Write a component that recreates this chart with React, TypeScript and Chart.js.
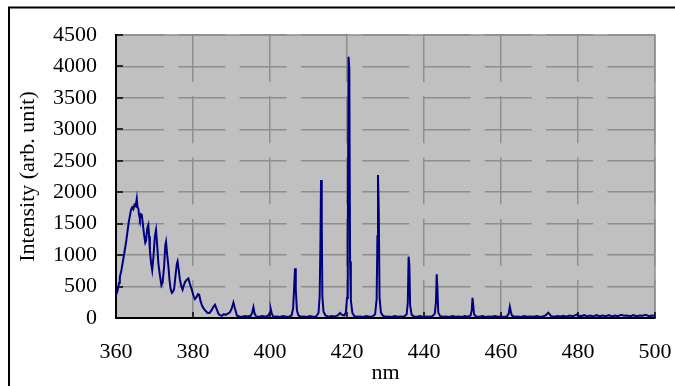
import React, { useEffect, useRef } from 'react';
import { Chart, registerables } from 'chart.js';

Chart.register(...registerables);

// Wavelength (nm) and intensity (arb. unit)
const wavelengths = [
  360.0, 360.4, 360.8, 361.0, 361.4, 361.8, 362.2, 362.6, 363.0, 363.3, 363.6, 363.9, 364.2, 364.5, 364.8, 365.1,
  365.4, 365.6, 365.8, 366.0, 366.2, 366.5, 366.7, 367.0, 367.3, 367.6, 367.8, 368.1, 368.4, 368.6, 368.8, 369.1,
  369.4, 369.7, 370.1, 370.4, 370.7, 371.0, 371.4, 371.8, 372.1, 372.5, 372.8, 373.0, 373.3, 373.6, 373.9, 374.2,
  374.5, 374.8, 375.1, 375.5, 375.8, 376.0, 376.3, 376.6, 376.9, 377.3, 377.6, 378.0, 378.4, 378.8, 379.2, 379.7,
  380.1, 380.5, 380.9, 381.3, 381.6, 382.0, 382.4, 382.8, 383.3, 383.8, 384.3, 384.8, 385.3, 385.7, 386.1, 386.6,
  387.0, 387.5, 388.0, 388.5, 389.0, 389.5, 390.0, 390.5, 390.9, 391.4, 392.0, 392.8, 393.5, 394.2, 395.0, 395.4,
  395.7, 396.0, 396.4, 397.2, 398.0, 398.8, 399.6, 400.0, 400.2, 400.5, 400.9, 401.8, 402.6, 403.4, 404.2, 405.0,
  405.6, 406.0, 406.3, 406.5, 406.7, 407.0, 407.4, 408.0, 408.8, 409.6, 410.4, 411.2, 412.0, 412.6, 412.9, 413.1,
  413.25, 413.45, 413.6, 413.9, 414.4, 415.2, 416.0, 416.8, 417.6, 418.2, 418.7, 419.3, 419.7, 420.0, 420.2, 420.4,
  420.6, 420.8, 421.0, 421.4, 421.9, 422.6, 423.4, 424.2, 425.0, 425.8, 426.6, 427.3, 427.7, 427.9, 428.05, 428.25,
  428.45, 428.8, 429.3, 430.0, 430.8, 431.6, 432.4, 433.2, 434.0, 434.8, 435.5, 435.8, 436.0, 436.2, 436.4, 436.8,
  437.4, 438.2, 439.0, 439.8, 440.6, 441.4, 442.2, 442.8, 443.1, 443.3, 443.5, 443.7, 444.2, 445.0, 445.8, 446.6,
  447.4, 448.2, 449.0, 449.8, 450.6, 451.4, 452.1, 452.4, 452.6, 452.8, 453.0, 453.5, 454.4, 455.2, 456.0, 456.8,
  457.6, 458.4, 459.2, 460.0, 460.8, 461.6, 462.0, 462.3, 462.5, 462.8, 463.5, 464.4, 465.2, 466.0, 466.8, 467.6,
  468.4, 469.2, 470.0, 470.8, 471.6, 472.0, 472.3, 472.6, 473.0, 473.8, 474.6, 475.4, 476.2, 477.0, 477.8, 478.6,
  479.4, 479.7, 480.0, 480.8, 481.6, 482.4, 483.2, 484.0, 484.8, 485.6, 486.4, 487.2, 488.0, 488.8, 489.6, 490.4,
  491.2, 492.0, 492.8, 493.6, 494.4, 495.2, 496.0, 496.8, 497.6, 498.4, 499.2, 500.0,
];

const intensities = [
  366, 430, 560, 650, 760, 900, 1050, 1200, 1380, 1520, 1620, 1720, 1760, 1730, 1800, 1780,
  1900, 1760, 1740, 1640, 1580, 1650, 1640, 1480, 1320, 1200, 1230, 1420, 1480, 1300, 1080, 880,
  760, 950, 1300, 1400, 1150, 870, 680, 520, 560, 820, 1150, 1210, 1000, 830, 600, 460,
  400, 420, 460, 700, 860, 900, 760, 610, 520, 450, 520, 580, 610, 630, 540, 450,
  360, 300, 330, 380, 370, 260, 190, 150, 110, 80, 80, 120, 180, 210, 150, 70,
  45, 35, 60, 50, 70, 85, 140, 245, 150, 40, 25, 20, 30, 25, 35, 90,
  170, 70, 25, 20, 30, 20, 40, 90, 140, 60, 20, 25, 15, 30, 20, 25,
  40, 150, 520, 790, 450, 120, 40, 20, 25, 15, 30, 20, 25, 80, 340, 1200,
  2194, 1500, 340, 100, 40, 20, 30, 25, 40, 80, 50, 40, 90, 320, 1130, 4155,
  3960, 900, 280, 80, 30, 20, 25, 15, 30, 20, 25, 60, 300, 1300, 2273, 1700,
  330, 90, 35, 20, 25, 15, 30, 20, 25, 20, 60, 250, 975, 850, 200, 50,
  25, 20, 30, 15, 25, 20, 30, 70, 250, 694, 450, 90, 30, 20, 25, 15,
  30, 20, 25, 15, 30, 20, 40, 120, 320, 200, 60, 25, 20, 30, 15, 25,
  20, 30, 20, 25, 15, 30, 70, 180, 120, 40, 20, 25, 15, 30, 20, 25,
  20, 30, 20, 25, 40, 70, 85, 60, 30, 20, 30, 25, 35, 20, 40, 30,
  45, 55, 40, 30, 45, 30, 40, 25, 45, 30, 40, 30, 45, 25, 40, 30,
  50, 35, 40, 30, 45, 30, 40, 35, 50, 30, 40, 35,
];

const X_MIN = 360;
const X_MAX = 500;
const X_STEP = 20;
const Y_MIN = 0;
const Y_MAX = 4500;
const Y_STEP = 500;
const xTitle = 'nm';
const yTitle = 'Intensity (arb. unit)';

const FONT = 'Liberation Serif, "Times New Roman", serif';
const FONT_SIZE = 22;
const GRID_COLOR = '#8e8e8e';
const GRID_DASH = [47, 14.3];

export default function App() {
  const ref = useRef<HTMLCanvasElement | null>(null);

  useEffect(() => {
    const canvas = ref.current;
    if (!canvas) return;

    const framePlugin = {
      id: 'frame',
      beforeDraw(chart: any) {
        const { ctx, chartArea: a } = chart;
        ctx.save();
        ctx.fillStyle = '#ffffff';
        ctx.fillRect(0, 0, chart.width, chart.height);
        ctx.fillStyle = '#c0c0c0';
        ctx.fillRect(a.left, a.top, a.right - a.left, a.bottom - a.top);
        ctx.strokeStyle = GRID_COLOR;
        ctx.lineWidth = 1.5;
        ctx.strokeRect(a.left, a.top, a.right - a.left, a.bottom - a.top);
        ctx.strokeStyle = '#000000';
        ctx.lineWidth = 2;
        ctx.strokeRect(9, 7.5, 800, 600);
        ctx.restore();
      },
      beforeDatasetsDraw(chart: any) {
        const { ctx, chartArea: a, scales } = chart;
        ctx.save();
        ctx.strokeStyle = '#000000';
        ctx.lineWidth = 1.5;
        ctx.beginPath();
        scales.y.ticks.forEach((t: any) => {
          const py = Math.round(scales.y.getPixelForValue(t.value));
          ctx.moveTo(a.left, py);
          ctx.lineTo(a.left + 7, py);
        });
        scales.x.ticks.forEach((t: any) => {
          const px = Math.round(scales.x.getPixelForValue(t.value));
          ctx.moveTo(px, a.bottom);
          ctx.lineTo(px, a.bottom - 6);
        });
        ctx.stroke();
        ctx.restore();
      },
    };

    const chart = new Chart(canvas, {
      type: 'line',
      data: {
        datasets: [
          {
            data: wavelengths.map((x, i) => ({ x, y: intensities[i] })),
            borderColor: '#000080',
            borderWidth: 2,
            pointRadius: 0,
            tension: 0,
            fill: false,
          },
        ],
      },
      options: {
        animation: false,
        responsive: false,
        maintainAspectRatio: false,
        devicePixelRatio: 1,
        layout: { padding: { left: 0, right: 20, top: 35, bottom: 0 } },
        plugins: {
          legend: { display: false },
          tooltip: { enabled: false },
        },
        scales: {
          x: {
            type: 'linear',
            min: X_MIN,
            max: X_MAX,
            afterFit: (s: any) => {
              s.height = 68;
              s.paddingLeft = 0;
              s.paddingRight = 0;
            },
            ticks: {
              stepSize: X_STEP,
              color: '#000',
              padding: 21,
              font: { family: FONT, size: FONT_SIZE, lineHeight: 1.2 },
              callback: (v: any) => String(v),
              maxRotation: 0,
            },
            grid: { color: GRID_COLOR, lineWidth: 1.5, drawTicks: false },
            border: { display: true, color: '#000', width: 2, dash: GRID_DASH },
            title: {
              display: true,
              text: xTitle,
              color: '#000',
              font: { family: FONT, size: FONT_SIZE, lineHeight: 1.2 },
              padding: { top: 0, bottom: 0 },
            },
          },
          y: {
            type: 'linear',
            min: Y_MIN,
            max: Y_MAX,
            afterFit: (s: any) => {
              s.width = 116;
              s.paddingTop = 0;
              s.paddingBottom = 0;
            },
            ticks: {
              stepSize: Y_STEP,
              color: '#000',
              padding: 19,
              font: { family: FONT, size: FONT_SIZE, lineHeight: 1.2 },
              callback: (v: any) => String(v),
            },
            grid: { color: GRID_COLOR, lineWidth: 1.5, drawTicks: false },
            border: { display: true, color: '#000', width: 2, dash: GRID_DASH },
            title: {
              display: true,
              text: yTitle,
              color: '#000',
              font: { family: FONT, size: FONT_SIZE, lineHeight: 1.2 },
              padding: { top: 15, bottom: 0 },
            },
          },
        },
      },
      plugins: [framePlugin],
    });

    return () => {
      chart.destroy();
    };
  }, []);

  return (
    <div style={{ position: 'fixed', left: 0, top: 0, width: 675, height: 386 }}>
      <canvas ref={ref} width={675} height={386} style={{ display: 'block', width: 675, height: 386 }} />
    </div>
  );
}
